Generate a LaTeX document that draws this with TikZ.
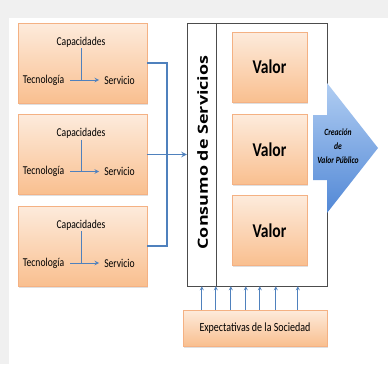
\documentclass[tikz,border=0pt]{standalone}
\usepackage{fontspec}
\setmainfont[FakeStretch=0.8]{Carlito}
\newfontfamily\consfont[FakeStretch=1.28]{Open Sans}
\usetikzlibrary{calc,positioning,shapes,shadows,arrows}
\definecolor{naranjaA}{HTML}{FDEBDC}
\definecolor{naranjaB}{HTML}{F9BF8F}
\definecolor{bordeN}{HTML}{F4B183}
\definecolor{azul}{HTML}{4F81BD}
\definecolor{azulA}{HTML}{B0CDF2}
\definecolor{azulB}{HTML}{5288D6}

\begin{document}
\begin{tikzpicture}[x=1pt,y=-1pt,
	caja/.style={draw=bordeN, top color=naranjaA, bottom color=naranjaB,
		drop shadow={opacity=0.25,shadow xshift=1pt,shadow yshift=-1.5pt}},
	linea/.style={draw=azul, line width=1.4pt},
	flecha/.style={draw=azul, line width=1pt, -stealth},
	txt/.style={font=\fontsize{12}{14}\selectfont, inner sep=1pt}]
\useasboundingbox (0,0) rectangle (388,364);
\fill[white] (0,0) rectangle (388,364);
\fill[gray!12] (0,0) rectangle (388,18);
\fill[gray!12] (0,0) rectangle (9,364);

% tres cajas de la izquierda
\foreach \i/\y in {1/63,2/154.5,3/246}{
	\node[caja, minimum width=129, minimum height=80] (t\i) at (82.5,\y) {};
	\node[txt] (cap\i) at ($(t\i.center)+(-1.5,-21)$) {Capacidades};
	\node[txt] (tec\i) at ($(t\i.center)+(-39,17)$) {Tecnología};
	\node[txt] (serv\i) at ($(t\i.center)+(37,17)$) {Servicio};
	\draw[flecha, shorten <=5pt, shorten >=4pt] (tec\i) -- (serv\i);
	\draw[draw=azul, line width=1pt] (cap\i) -- (cap\i |- tec\i);
}

% consumo de servicios
\node[draw=black!70, minimum width=140, minimum height=263] (cons) at (257,154.5) {};
\draw[black!70] ([xshift=29pt]cons.north west) -- ([xshift=29pt]cons.south west);
\node[rotate=90, font=\consfont\bfseries\fontsize{14}{16}\selectfont] (constxt) at (202.5,152.5) {Consumo de Servicios};
\foreach \i/\y in {1/67,2/149.5,3/230.5}
	\node[caja, minimum width=75, minimum height=70, font=\bfseries\fontsize{19.5}{22}\selectfont] (val\i) at (269.5,\y) {Valor};

% conexiones
\coordinate (bus) at (167,154.5);
\draw[linea] (t1.east) -| (bus) |- (t3.east);
\draw[linea, -stealth] (t2.east) -- (t2.east -| cons.west);

% flecha de valor publico
\shade[top color=azulA, bottom color=azulB]
	(313,115) -- (327,115) -- (327,83) -- (378,148) -- (327,213) -- (327,180) -- (313,180) -- cycle;
\node[align=center, font=\bfseries\itshape\fontsize{9.5}{14}\selectfont] (crea) at (338,146) {Creación\\de\\Valor Público};

% expectativas
\node[caja, minimum width=144, minimum height=36, font=\fontsize{12.5}{14}\selectfont] (expect) at (255,328) {Expectativas de la Sociedad};
\foreach \dx in {19,33,48,63,77,93,115}{
	\coordinate (p\dx) at ($(expect.north west)+(\dx,0)$);
	\draw[draw=azul, line width=0.8pt, -stealth] (p\dx) -- (p\dx |- cons.south);
}
\end{tikzpicture}
\end{document}
